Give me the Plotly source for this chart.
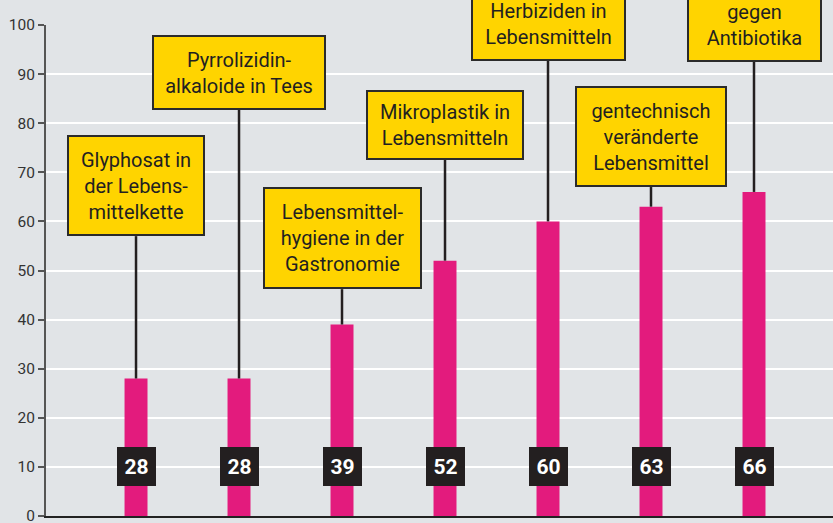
import plotly.graph_objects as go

# Survey topics and share of respondents (%)
topics = [
    "Glyphosat in<br>der Lebens-<br>mittelkette",
    "Pyrrolizidin-<br>alkaloide in Tees",
    "Lebensmittel-<br>hygiene in der<br>Gastronomie",
    "Mikroplastik in<br>Lebensmitteln",
    "Rückstände von<br>Herbiziden in<br>Lebensmitteln",
    "gentechnisch<br>veränderte<br>Lebensmittel",
    "Resistenzen<br>gegen<br>Antibiotika",
]
values = [28, 28, 39, 52, 60, 63, 66]
y_ticks = [0, 10, 20, 30, 40, 50, 60, 70, 80, 90, 100]

# Callout layout: bottom edge of each yellow box (axis units) and box size (px)
box_bottom = [57.0, 82.7, 46.2, 72.5, 92.7, 67.0, 92.5]
box_size = [(138, 101), (174, 75), (159, 102), (158, 70), (155, 101), (152, 101), (135, 101)]

BG = "#e1e4e7"
MAGENTA = "#e31b7d"
YELLOW = "#ffd400"
INK = "#231f20"
FONT = "Roboto, Liberation Sans, Arial, sans-serif"

idx = list(range(len(topics)))

fig = go.Figure()
fig.add_trace(go.Bar(
    x=idx, y=values, width=0.223,
    marker=dict(color=MAGENTA, line=dict(width=0)),
    hoverinfo="skip",
))

shapes = []
annotations = []
for i, (topic, v, yb, (bw, bh)) in enumerate(zip(topics, values, box_bottom, box_size)):
    # leader line from bar top to the callout
    shapes.append(dict(type="line", xref="x", yref="y", x0=i, x1=i, y0=v, y1=yb,
                       line=dict(color=INK, width=2.5), layer="above"))
    # yellow callout box
    annotations.append(dict(
        x=i, y=yb, xref="x", yref="y", xanchor="center", yanchor="bottom",
        text=topic, showarrow=False, align="center", valign="middle",
        width=bw - 4, height=bh - 4,
        bgcolor=YELLOW, bordercolor="#2b2b2b", borderwidth=2, borderpad=0,
        font=dict(family=FONT, size=20, color=INK),
    ))
    # value tag on the bar
    annotations.append(dict(
        x=i, y=10, xref="x", yref="y", xanchor="center", yanchor="middle",
        text=f"<b>{v}</b>", showarrow=False,
        width=39, height=39, bgcolor=INK, borderpad=0, borderwidth=0,
        font=dict(family=FONT, size=21, color="white"),
    ))

fig.update_layout(
    width=833, height=523,
    margin=dict(l=46, r=0, t=25, b=7),
    paper_bgcolor=BG, plot_bgcolor=BG,
    showlegend=False,
    shapes=shapes,
    annotations=annotations,
    xaxis=dict(
        range=[-0.874, 6.767], showticklabels=False, showgrid=False,
        zeroline=False, ticks="", showline=True, linecolor="#222", linewidth=1.5,
        automargin=False,
    ),
    yaxis=dict(
        range=[0, 100], tickvals=y_ticks, ticks="outside", ticklen=6,
        tickcolor="#555", tickwidth=1.5, showline=True, linecolor="#555",
        linewidth=2, showgrid=True, gridcolor="white", gridwidth=1.5,
        zeroline=False, ticklabeloverflow="allow", automargin=False,
        tickfont=dict(family=FONT, size=15.5, color="#333"),
    ),
)

fig.write_html("out.html")
